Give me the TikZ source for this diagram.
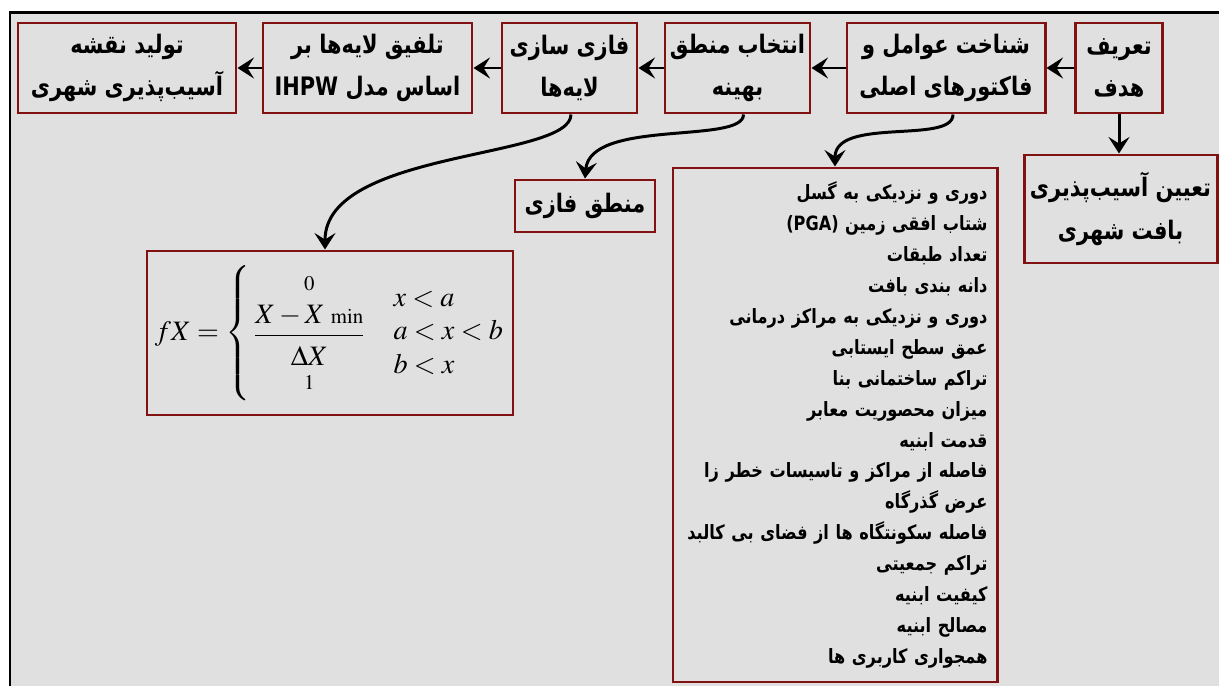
\documentclass[tikz,border=0pt]{standalone}
\usepackage{amsmath}
\usepackage{mathptmx}
\usepackage{fontspec}
\newfontfamily\farsi[Script=Arabic,FakeStretch=0.82]{DejaVu Sans}
\TeXXeTstate=1
\usetikzlibrary{arrows.meta}
\definecolor{bggray}{RGB}{224,224,224}
\definecolor{boxred}{RGB}{128,18,18}
\newcommand{\fa}[1]{\beginR #1\endR}

\begin{document}
\begin{tikzpicture}[
  box/.style={draw=boxred,line width=1.7pt,fill=bggray,align=center,inner sep=1pt,
    font=\farsi\bfseries\fontsize{14.5}{24}\selectfont},
  conn/.style={line width=1.7pt,-{Stealth[length=3.3mm,width=4.2mm,inset=1.3mm]}}
]
  \useasboundingbox (0,0) rectangle (24.38,-13.72);
  % background and frame
  \fill[bggray] (0.2,-0.25) rectangle (24.38,-13.72);
  \draw[line width=1.7pt] (0.2,-13.72) -- (0.2,-0.25) -- (24.38,-0.25);

  % top row
  \node[box,minimum width=4.36cm,minimum height=1.8cm] (tolid) at (2.54,-1.36) {\fa{تولید نقشه}\\\fa{آسیب‌پذیری شهری}};
  \node[box,minimum width=4.18cm,minimum height=1.8cm] (talfiq) at (7.35,-1.36) {\fa{تلفیق لایه‌ها بر}\\\fa{اساس مدل \beginL IHPW\endL}};
  \node[box,minimum width=2.70cm,minimum height=1.8cm] (fazi) at (11.39,-1.36) {\fa{فازی سازی}\\\fa{لایه‌ها}};
  \node[box,minimum width=2.90cm,minimum height=1.8cm] (entekhab) at (14.75,-1.36) {\fa{انتخاب منطق}\\\fa{بهینه}};
  \node[box,minimum width=3.96cm,minimum height=1.8cm] (shenakht) at (18.92,-1.36) {\fa{شناخت عوامل و}\\\fa{فاکتورهای اصلی}};
  \node[box,minimum width=1.74cm,minimum height=1.8cm] (tarif) at (22.38,-1.36) {\fa{تعریف}\\\fa{هدف}};

  % lower nodes
  \node[box,minimum width=3.86cm,minimum height=2.16cm] (tayin) at (22.41,-4.18) {\fa{تعیین آسیب‌پذیری}\\\fa{بافت شهری}};
  \node[box,minimum width=2.80cm,minimum height=1.04cm] (mantegh) at (11.70,-4.12) {\fa{منطق فازی}};
  \node[box,font=\fontsize{16}{19}\selectfont,minimum width=7.32cm,minimum height=3.28cm] (formula) at (6.60,-6.66)
    {$\displaystyle fX=\left\{\,\begin{array}{@{}c@{}}{\scriptstyle 0}\\[3pt]
      \dfrac{X-X\;{\scriptstyle\mathrm{min}}}{\rule{0pt}{15pt}\Delta X}\\[3pt]{\scriptstyle 1}\end{array}
      \quad\begin{array}{@{}l@{}}x<a\\a<x<b\\b<x\end{array}\right.$};
  \node[box,font=\farsi\bfseries\fontsize{11.2}{17.6}\selectfont,align=right,text width=6.1cm,
    inner sep=0.19cm,minimum height=10.28cm] (factors) at (16.70,-8.50) {%
    \fa{دوری و نزدیکی به گسل}\\
    \fa{شتاب افقی زمین \beginL(PGA)\endL}\\
    \fa{تعداد طبقات}\\
    \fa{دانه بندی بافت}\\
    \fa{دوری و نزدیکی به مراکز درمانی}\\
    \fa{عمق سطح ایستابی}\\
    \fa{تراکم ساختمانی بنا}\\
    \fa{میزان محصوریت معابر}\\
    \fa{قدمت ابنیه}\\
    \fa{فاصله از مراکز و تاسیسات خطر زا}\\
    \fa{عرض گذرگاه}\\
    \fa{فاصله سکونتگاه ها از فضای بی کالبد}\\
    \fa{تراکم جمعیتی}\\
    \fa{کیفیت ابنیه}\\
    \fa{مصالح ابنیه}\\
    \fa{همجواری کاربری ها}};

  % connectors
  \draw[conn] (tarif.west) -- (shenakht.east);
  \draw[conn] (shenakht.west) -- (entekhab.east);
  \draw[conn] (entekhab.west) -- (fazi.east);
  \draw[conn] (fazi.west) -- (talfiq.east);
  \draw[conn] (talfiq.west) -- (tolid.east);
  \draw[conn] (tarif.south) -- (tarif.south |- tayin.north);
  \draw[conn] ([xshift=0.14cm]shenakht.south) .. controls +(0,-0.6) and +(0,1.0) .. (factors.north);
  \draw[conn] ([xshift=0.12cm]entekhab.south) .. controls +(0,-0.6) and +(0.1,1.2) .. (mantegh.north);
  \draw[conn] ([xshift=0.03cm]fazi.south) .. controls +(0,-0.9) and +(0,2.0) .. ([xshift=-0.1cm]formula.north);
\end{tikzpicture}
\end{document}
